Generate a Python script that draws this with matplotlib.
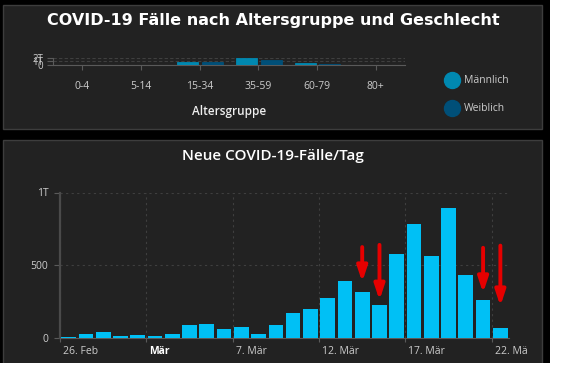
import matplotlib
matplotlib.use('Agg')
import matplotlib.pyplot as plt
import matplotlib.transforms as mtransforms
from matplotlib.patches import Rectangle
from matplotlib.lines import Line2D

plt.rcParams['font.family'] = ['Open Sans', 'DejaVu Sans']

# Daten: Altersgruppen
age_groups = ['0-4', '5-14', '15-34', '35-59', '60-79', '80+']
male_cases = [40, 60, 950, 2000, 680, 110]
female_cases = [30, 50, 870, 1470, 340, 90]
age_yticks = [0, 1000, 2000]
age_ytick_labels = ['0', '1T', '2T']

# Daten: neue Fälle pro Tag
daily_cases = [5, 25, 40, 15, 20, 15, 30, 88, 95, 60, 73, 25, 88,
               170, 198, 274, 391, 315, 228, 577, 784, 563, 894, 432, 260, 67]
date_tick_labels = ['26. Feb', 'Mär', '7. Mär', '12. Mär', '17. Mär', '22. Mä']
daily_yticks = [0, 500, 1000]
daily_ytick_labels = ['0', '500', '1T']

# rote Pfeile (Balken-Index, Start, Spitze)
arrow_bars = [17, 18, 24, 25]
arrow_start = [625, 640, 620, 635]
arrow_end = [385, 260, 310, 220]

W, H = 576, 384
male_color = '#0088b0'
female_color = '#004f78'
bar_color = '#00c0f5'
panel_color = '#222222'
grid_color = '#3f3f3f'
axis_color = '#5a5a5a'
label_color = '#cccccc'


def box(x0, y0, x1, y1):
    return [x0 / W, 1 - y1 / H, (x1 - x0) / W, (y1 - y0) / H]


fig = plt.figure(figsize=(5.76, 3.84), dpi=100, facecolor='white')

fig.patches.append(Rectangle((0, 1 - 363 / H), 550 / W, 363 / H, transform=fig.transFigure,
                             facecolor='black', edgecolor='none', zorder=-3))
fig.patches.append(Rectangle((3 / W, 1 - 129 / H), 539 / W, 124 / H, transform=fig.transFigure,
                             facecolor=panel_color, edgecolor='#3d3d3d', lw=1, zorder=-2))
fig.patches.append(Rectangle((3 / W, 1 - 375 / H), 539 / W, 235 / H, transform=fig.transFigure,
                             facecolor=panel_color, edgecolor='#3d3d3d', lw=1, zorder=-2))
fig.patches.append(Rectangle((0, 0), 1, (384 - 363) / H, transform=fig.transFigure,
                             facecolor='white', edgecolor='none', zorder=-1))

fig.text(273 / W, 1 - 20.5 / H, 'COVID-19 Fälle nach Altersgruppe und Geschlecht',
         ha='center', va='center', fontsize=11.5, weight='bold', color='white', family='DejaVu Sans')
fig.text(273 / W, 1 - 156 / H, 'Neue COVID-19-Fälle/Tag',
         ha='center', va='center', fontsize=11, weight='semibold', color='white')

# oberes Diagramm
ax1 = fig.add_axes(box(53, 57.5, 405, 65.3))
ax1.set_facecolor('none')
x = range(len(age_groups))
ax1.bar([i - 0.2 for i in x], male_cases, width=0.36, color=male_color,
        edgecolor=male_color, lw=0.6, zorder=3)
ax1.bar([i + 0.22 for i in x], female_cases, width=0.36, color=female_color,
        edgecolor=female_color, lw=0.6, zorder=3)
ax1.set_xlim(-0.5, 5.5)
ax1.set_ylim(0, 2000)
ax1.set_xticks(list(x))
ax1.set_xticklabels(age_groups)
ax1.set_yticks(age_yticks)
ax1.set_yticklabels(age_ytick_labels)
ax1.tick_params(axis='x', length=3.6, color=axis_color, labelcolor=label_color,
                labelsize=7.5, pad=7.5)
ax1.tick_params(axis='y', length=4, color=axis_color, labelcolor=label_color,
                labelsize=7, pad=3)
ax1.grid(axis='y', ls=(0, (3, 2)), color=grid_color, lw=0.8)
for s in ['top', 'right']:
    ax1.spines[s].set_visible(False)
ax1.spines['bottom'].set_color(axis_color)
ax1.spines['left'].set_color(axis_color)
ax1.set_xlabel('Altersgruppe', color='#eeeeee', fontsize=8.5, weight='semibold', labelpad=9.5)

handles = [Line2D([], [], marker='o', ls='none', markersize=11.5, color=male_color),
           Line2D([], [], marker='o', ls='none', markersize=11.5, color=female_color)]
fig.legend(handles, ['Männlich', 'Weiblich'], loc='upper left',
           bbox_to_anchor=(441 / W, 1 - 70 / H), frameon=False, labelcolor=label_color,
           fontsize=7.5, labelspacing=1.65, handletextpad=0.5, borderpad=0, handlelength=1.2)

# unteres Diagramm
ax2 = fig.add_axes(box(60, 192.5, 509, 338))
ax2.set_facecolor('none')
ax2.bar(range(len(daily_cases)), daily_cases, width=0.85, color=bar_color, zorder=3)
ax2.set_xlim(-0.5, len(daily_cases) - 0.5)
ax2.set_ylim(0, 1000)
ax2.set_xticks([-0.5 + 5 * k for k in range(len(date_tick_labels))])
ax2.set_xticklabels(date_tick_labels)
ax2.set_yticks(daily_yticks)
ax2.set_yticklabels(daily_ytick_labels)
ax2.tick_params(axis='x', length=3, color=axis_color, labelcolor=label_color,
                labelsize=7.5, pad=3)
ax2.tick_params(axis='y', length=4.5, color=axis_color, labelcolor=label_color,
                labelsize=7.5, pad=4)
ax2.grid(ls=(0, (2, 3)), color=grid_color, lw=0.8)
for s in ['top', 'right']:
    ax2.spines[s].set_visible(False)
ax2.spines['bottom'].set_color(axis_color)
ax2.spines['left'].set_color('#4a4a4a')
ax2.spines['left'].set_linewidth(1.6)

offset = mtransforms.ScaledTranslation(3 / 100, 0, fig.dpi_scale_trans)
for lbl in ax2.get_xticklabels():
    lbl.set_horizontalalignment('left')
    lbl.set_transform(lbl.get_transform() + offset)
    if lbl.get_text() == 'Mär':
        lbl.set_color('white')
        lbl.set_fontweight('bold')

for i, y0, y1 in zip(arrow_bars, arrow_start, arrow_end):
    ax2.annotate('', xy=(i, y1), xytext=(i, y0), zorder=5,
                 arrowprops=dict(arrowstyle='-|>,head_length=0.9,head_width=0.3',
                                 color='#e60000', lw=2.8, shrinkA=0, shrinkB=0))

fig.savefig('out.png', dpi=100)
